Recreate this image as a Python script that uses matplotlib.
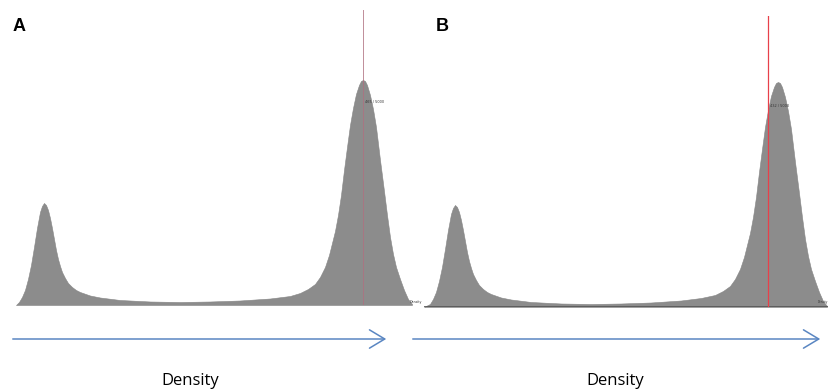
import matplotlib
matplotlib.use("Agg")
import matplotlib.pyplot as plt

W, H = 829, 390

# Panel A density profile (position, density)
pos_a = [16, 19, 22, 25, 28, 31, 34, 37, 40, 42, 44, 46, 48, 50, 52, 54, 56, 58, 60, 62, 65, 68,
         72, 76, 80, 90, 100, 120, 150, 180, 210, 240, 270, 290, 300, 308, 315, 320, 325, 329,
         332, 335, 338, 341, 344, 347, 350, 353, 356, 359, 361, 363, 365, 367, 370, 373, 376,
         380, 384, 387, 390, 393, 396, 400, 404, 408, 412]
dens_a = [0, 3, 8, 15, 26, 40, 58, 77, 93, 99, 102, 100, 95, 87, 77, 66, 55, 46, 39, 33, 27, 22,
          18, 15, 13, 9.5, 7.5, 5, 3.5, 3, 3.5, 4.5, 6.5, 9, 12, 16, 21, 28, 38, 50,
          62, 74, 90, 110, 135, 158, 180, 197, 211, 220, 224, 225, 224, 220, 210, 196, 178,
          145, 114, 90, 68, 51, 38, 26, 15, 6, 1]

# Panel B density profile
pos_b = [424, 430, 433, 436, 439, 442, 445, 448, 451, 453, 455, 457, 459, 461, 463, 465, 467, 469,
         471, 473, 476, 479, 483, 487, 491, 501, 511, 531, 561, 591, 621, 651, 681, 701, 715, 723,
         730, 735, 740, 744, 747, 750, 753, 756, 759, 762, 765, 768, 771, 774, 776, 778, 780, 782,
         785, 788, 791, 795, 799, 802, 805, 808, 811, 815, 819, 823, 827]
dens_b = [0, 3, 8, 15, 26, 40, 58, 77, 93, 99, 102, 100, 95, 87, 77, 66, 55, 46,
          39, 33, 27, 22, 18, 15, 13, 9.5, 7.5, 5, 3.5, 3, 3.5, 4.5, 6.5, 9, 12, 16,
          21, 28, 38, 50, 62, 74, 90, 110, 135, 158, 180, 197, 211, 220, 224, 225, 224, 220,
          210, 196, 178, 145, 114, 90, 68, 51, 38, 26, 15, 6, 1]

marker_a = 363
marker_b = 768
label_a = "465 / 5000"
label_b = "432 / 5000"

fig = plt.figure(figsize=(W / 100, H / 100), dpi=100)
fig.patch.set_facecolor("white")


def px_axes(l, t, r, b):
    return fig.add_axes([l / W, 1 - b / H, (r - l) / W, (b - t) / H])


fill_c = "#8c8c8c"
edge_c = "#868686"

# Panel A
axA = px_axes(16, 10, 412, 305)
axA.fill_between(pos_a, dens_a, 0, color=fill_c, edgecolor=edge_c, linewidth=0.4)
axA.set_xlim(16, 412)
axA.set_ylim(0, 295)
axA.axvline(marker_a, color="#b07080", linewidth=0.7, alpha=0.8)
axA.text(marker_a + 2, 202, label_a, fontsize=2.5, color="#333333")
axA.axis("off")

# Panel B
axB = px_axes(424, 16, 829, 307)
axB.fill_between(pos_b, dens_b, 0, color=fill_c, edgecolor=edge_c, linewidth=0.4)
axB.set_xlim(424, 829)
axB.set_ylim(0, 291)
axB.axhline(0, color="#555555", linewidth=1.2)
axB.axvline(marker_b, color="#e8404a", linewidth=0.9)
axB.text(marker_b + 2, 200, label_b, fontsize=2.5, color="#333333")
axB.axis("off")

# tiny axis captions
fig.text(410 / W, 1 - 303 / H, "Density", fontsize=2.3, color="#333333")
fig.text(828 / W, 1 - 303 / H, "Density", fontsize=2.0, color="#333333", ha="right")

# Panel letters
fig.text(13 / W, 1 - 31 / H, "A", fontsize=13, fontweight="bold", family="Liberation Sans")
fig.text(436 / W, 1 - 31 / H, "B", fontsize=13, fontweight="bold", family="Liberation Sans")

# Arrows
arrow_c = "#5a86c2"
for x0, x1 in [(10, 389), (410, 823)]:
    fig.add_artist(matplotlib.patches.FancyArrowPatch(
        (x0 / W, 1 - 339 / H), (x1 / W, 1 - 339 / H), transform=fig.transFigure,
        arrowstyle="->,head_length=5,head_width=3", color=arrow_c, linewidth=1.1,
        mutation_scale=2.2))

fig.text(190 / W, 1 - 381 / H, "Density", fontsize=12, ha="center", va="center", family="Open Sans")
fig.text(615 / W, 1 - 381 / H, "Density", fontsize=12, ha="center", va="center", family="Open Sans")

fig.savefig("out.png", dpi=100)
